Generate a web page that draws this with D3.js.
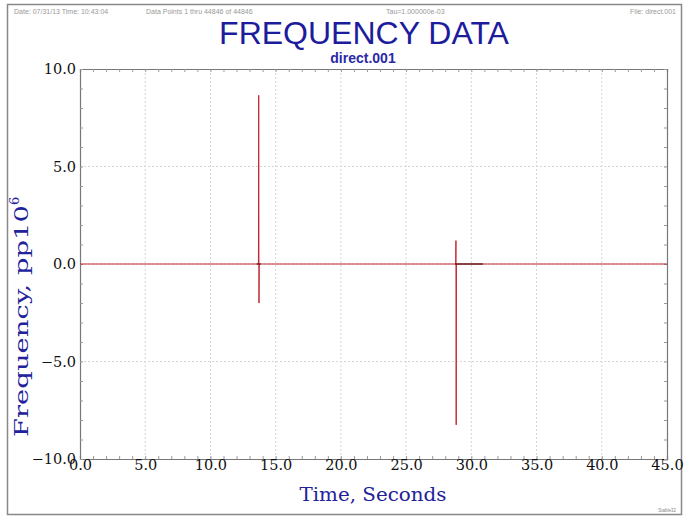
<!DOCTYPE html>
<html><head><meta charset="utf-8">
<script src="https://cdn.jsdelivr.net/npm/d3@7"></script>
<style>body{margin:0;background:#fff}svg{display:block}</style>
</head><body>
<svg id="c" width="686" height="519"></svg>
<script>
// ---- data ----
const xTicks = [0, 5, 10, 15, 20, 25, 30, 35, 40, 45];
const yTicks = [-10, -5, 0, 5, 10];
const timeSec = [0, 13.68, 13.7, 13.72, 13.74, 28.8, 28.82, 28.84, 28.86, 45];
const freqPpm = [0, 0, 8.65, -2.0, 0, 0, 1.2, -8.25, 0, 0];
const darkSegT = [[13.55, 13.85], [28.75, 30.9]];
const headerTexts = ["Date: 07/31/13   Time: 10:43:04", "Data Points 1 thru 44846 of 44846", "Tau=1.000000e-03", "File: direct.001"];

const svg = d3.select("#c");
const m = {l: 80, r: 667, t: 69, b: 459};
const x = d3.scaleLinear().domain([0, 45]).range([m.l, m.r]);
const y = d3.scaleLinear().domain([-10, 10]).range([m.b, m.t]);

// outer border
svg.append("rect").attr("x", 7.5).attr("y", 4.5).attr("width", 674).attr("height", 510)
  .attr("fill", "none").attr("stroke", "#888").attr("stroke-width", 1.5);

// header
const hx = [14, 146, 386, 676];
headerTexts.forEach((t, i) => {
  svg.append("text").attr("x", hx[i]).attr("y", 14).text(t)
    .attr("font-family", "Liberation Sans, Arial, sans-serif").attr("font-size", 7)
    .attr("fill", "#999").attr("text-anchor", i === 3 ? "end" : "start");
});

// titles
svg.append("text").attr("x", 364).attr("y", 43.5).text("FREQUENCY DATA")
  .attr("font-family", "Liberation Sans, Arial, sans-serif").attr("font-size", 32)
  .attr("fill", "#1c1c9c").attr("text-anchor", "middle");
svg.append("text").attr("x", 363).attr("y", 63).text("direct.001")
  .attr("font-family", "Liberation Sans, Arial, sans-serif").attr("font-size", 14).attr("font-weight", "bold")
  .attr("fill", "#2a2aa8").attr("text-anchor", "middle");

// grid
const g = svg.append("g");
g.selectAll(".vg").data(xTicks.slice(1, -1)).join("line")
  .attr("x1", d => x(d)).attr("x2", d => x(d)).attr("y1", m.t).attr("y2", m.b)
  .attr("stroke", "#d6d6d6").attr("stroke-dasharray", "2,2");
g.selectAll(".hg").data(yTicks.slice(1, -1)).join("line")
  .attr("y1", d => y(d)).attr("y2", d => y(d)).attr("x1", m.l).attr("x2", m.r)
  .attr("stroke", "#d6d6d6").attr("stroke-dasharray", "2,2");

// axes (all four sides, with minor ticks)
const font = "DejaVu Serif, serif";
function styleAxis(sel, showLabels) {
  sel.select(".domain").attr("stroke", "#777").attr("stroke-width", 1.2);
  sel.selectAll(".tick line").attr("stroke", "#999");
  sel.selectAll("text").attr("font-family", font).attr("font-size", 14.5).attr("fill", "#111");
  if (!showLabels) sel.selectAll("text").remove();
}
const minorX = d3.range(0, 46, 1), minorY = d3.range(-10, 11, 1);
[[d3.axisBottom(x), m.b, true], [d3.axisTop(x), m.t, false]].forEach(([ax, pos, lab]) => {
  const a = svg.append("g").attr("transform", `translate(0,${pos})`)
    .call(ax.tickValues(minorX).tickSize(-3).tickFormat(""));
  styleAxis(a, false);
  if (lab) {
    const b = svg.append("g").attr("transform", `translate(0,${pos})`)
      .call(d3.axisBottom(x).tickValues(xTicks).tickSize(0).tickPadding(1).tickFormat(d3.format(".1f")));
    b.select(".domain").remove();
    styleAxis(b, true);
  }
});
[[d3.axisLeft(y), m.l, true], [d3.axisRight(y), m.r, false]].forEach(([ax, pos, lab]) => {
  const a = svg.append("g").attr("transform", `translate(${pos},0)`)
    .call(ax.tickValues(minorY).tickSize(-3).tickFormat(""));
  styleAxis(a, false);
  if (lab) {
    const b = svg.append("g").attr("transform", `translate(${pos},0)`)
      .call(d3.axisLeft(y).tickValues(yTicks).tickSize(0).tickPadding(4).tickFormat(d3.format(".1f")));
    b.select(".domain").remove();
    styleAxis(b, true);
  }
});

// data line
const pts = timeSec.map((t, i) => [t, freqPpm[i]]);
svg.append("path").datum(pts)
  .attr("d", d3.line().x(d => x(d[0])).y(d => y(d[1])))
  .attr("fill", "none").attr("stroke", "#c0282e").attr("stroke-width", 1);
svg.selectAll(".dk").data(darkSegT).join("line")
  .attr("x1", d => x(d[0])).attr("x2", d => x(d[1])).attr("y1", y(0)).attr("y2", y(0))
  .attr("stroke", "#5a1a1e").attr("stroke-width", 1.3);

// axis titles
svg.append("text").attr("x", 373).attr("y", 501).text("Time,  Seconds")
  .attr("font-family", font).attr("font-size", 18).attr("fill", "#22229a").attr("text-anchor", "middle")
  .attr("textLength", 147).attr("lengthAdjust", "spacingAndGlyphs");
const yl = svg.append("text").attr("transform", "translate(28,437) rotate(-90)")
  .attr("font-family", font).attr("font-size", 19).attr("fill", "#22229a").attr("text-anchor", "start");
yl.append("tspan").text("Frequency,  pp10").attr("textLength", 232).attr("lengthAdjust", "spacingAndGlyphs");
yl.append("tspan").text("6").attr("font-size", 13).attr("dy", -9);

// small logo text bottom-right
svg.append("text").attr("x", 676).attr("y", 512).text("Stable32")
  .attr("font-family", "Liberation Sans, Arial, sans-serif").attr("font-size", 4.5)
  .attr("fill", "#888").attr("text-anchor", "end");
</script>
</body></html>
